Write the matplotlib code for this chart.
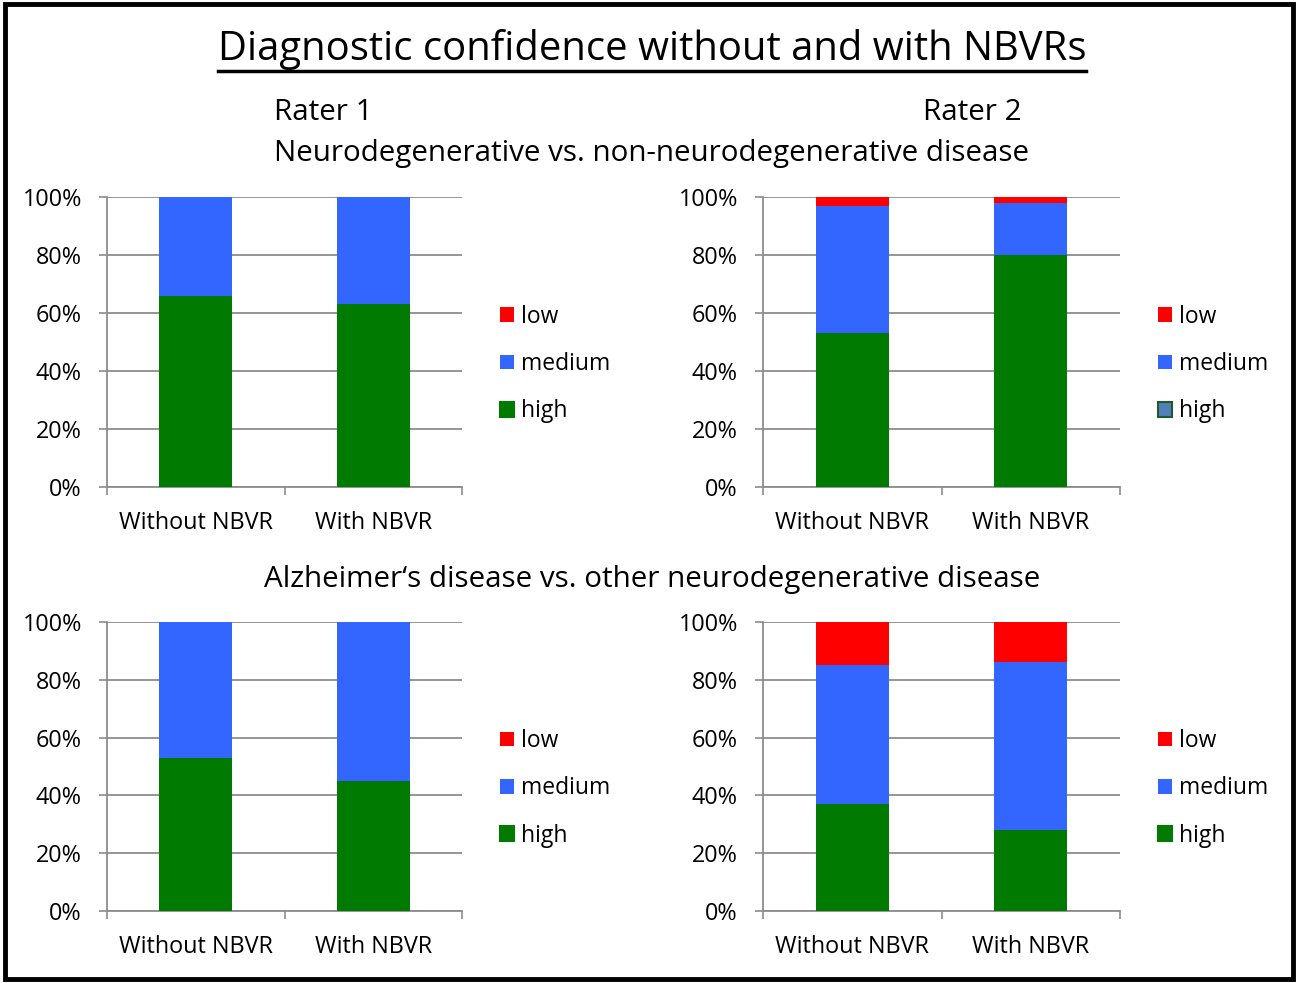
import matplotlib
matplotlib.use("Agg")
import matplotlib.pyplot as plt
from matplotlib.patches import Patch, Rectangle
import numpy as np

plt.rcParams['font.family'] = ['Open Sans', 'DejaVu Sans']

categories = ["Without NBVR", "With NBVR"]
levels = ["high", "medium", "low"]
colors = {"high": "#007a00", "medium": "#3366ff", "low": "#ff0000"}

# percentages per panel: (high, medium, low) for Without / With
r1_neuro_high = [66, 63]
r1_neuro_medium = [34, 37]
r1_neuro_low = [0, 0]

r2_neuro_high = [53, 80]
r2_neuro_medium = [44, 18]
r2_neuro_low = [3, 2]

r1_ad_high = [53, 45]
r1_ad_medium = [47, 55]
r1_ad_low = [0, 0]

r2_ad_high = [37, 28]
r2_ad_medium = [48, 58]
r2_ad_low = [15, 14]

W, H = 1300, 983
fig = plt.figure(figsize=(W / 100, H / 100), dpi=100)

# outer frame
fig.patches.append(Rectangle((5 / W, 4 / H), 1288 / W, 975 / H, transform=fig.transFigure,
                             fill=False, edgecolor="black", linewidth=3.5))


def px_axes(x0, y0, x1, y1):
    return fig.add_axes([x0 / W, 1 - y1 / H, (x1 - x0) / W, (y1 - y0) / H])


def panel(ax, high, medium, low, odd_high=False):
    x = np.arange(len(categories))
    ax.bar(x, high, width=0.41, color=colors["high"], zorder=3)
    ax.bar(x, medium, width=0.41, bottom=high, color=colors["medium"], zorder=3)
    ax.bar(x, low, width=0.41, bottom=np.array(high) + np.array(medium),
           color=colors["low"], zorder=3)
    ax.set_xlim(-0.5, 1.5)
    ax.set_ylim(0, 100)
    ax.set_yticks([0, 20, 40, 60, 80, 100])
    ax.set_yticklabels([f"{v}%" for v in range(0, 101, 20)], fontsize=16.8)
    ax.yaxis.grid(True, color="#8c8c8c", linewidth=1.3, zorder=0)
    ax.set_xticks([-0.5, 0.5, 1.5])
    ax.set_xticklabels([])
    ax.set_xticks(x, minor=True)
    ax.set_xticklabels(categories, minor=True, fontsize=16.8)
    ax.tick_params(axis="x", which="minor", length=0, pad=17)
    ax.tick_params(axis="x", which="major", length=6, color="#8c8c8c", width=1.2)
    ax.tick_params(axis="y", length=6, color="#8c8c8c", width=1.2, pad=12)
    for s in ["top", "right"]:
        ax.spines[s].set_visible(False)
    for s in ["left", "bottom"]:
        ax.spines[s].set_color("#8c8c8c")
        ax.spines[s].set_linewidth(1.3)
    handles = [Patch(facecolor=colors["low"], label="low"),
               Patch(facecolor=colors["medium"], label="medium"),
               Patch(facecolor="#5080b8" if odd_high else colors["high"],
                     edgecolor="#1f5a2a" if odd_high else colors["high"],
                     linewidth=1.5, label="high")]
    ax.legend(handles=handles, loc="center left", bbox_to_anchor=(1.107, 0.424),
              frameon=False, fontsize=16.5, handlelength=0.6, handleheight=0.6,
              handletextpad=0.3, labelspacing=1.02, borderpad=0, borderaxespad=0)


ax1 = px_axes(107, 197, 462, 487)
panel(ax1, r1_neuro_high, r1_neuro_medium, r1_neuro_low)
ax2 = px_axes(763, 197, 1120, 487)
panel(ax2, r2_neuro_high, r2_neuro_medium, r2_neuro_low, odd_high=True)
ax3 = px_axes(107, 622, 462, 911)
panel(ax3, r1_ad_high, r1_ad_medium, r1_ad_low)
ax4 = px_axes(763, 622, 1120, 911)
panel(ax4, r2_ad_high, r2_ad_medium, r2_ad_low)

title = fig.text(652 / W, 1 - 50 / H, "Diagnostic confidence without and with NBVRs",
                 ha="center", va="center", fontsize=28.8)
fig.canvas.draw()
bb = title.get_window_extent()
fig.add_artist(plt.Line2D([bb.x0 / W, bb.x1 / W], [1 - 71 / H, 1 - 71 / H],
                          transform=fig.transFigure, color="black", linewidth=2.5))

fig.text(323 / W, 1 - 112 / H, "Rater 1", ha="center", va="center", fontsize=21.3)
fig.text(972 / W, 1 - 112 / H, "Rater 2", ha="center", va="center", fontsize=21.3)
fig.text(652 / W, 1 - 154 / H, "Neurodegenerative vs. non-neurodegenerative disease",
         ha="center", va="center", fontsize=21.3)
fig.text(652 / W, 1 - 579 / H, "Alzheimer\u2018s disease vs. other neurodegenerative disease",
         ha="center", va="center", fontsize=21.3)

fig.savefig("out.png", dpi=100)
